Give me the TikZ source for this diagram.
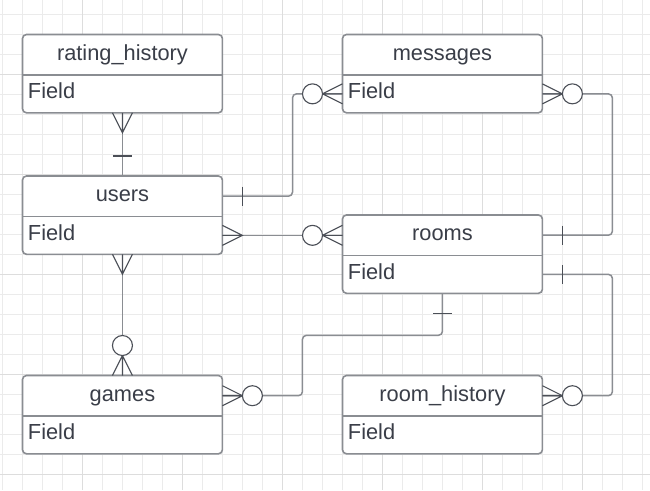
\documentclass[tikz,border=0pt]{standalone}
\usepackage{fontspec}
\setmainfont{Liberation Sans}
\usetikzlibrary{calc,backgrounds}
\definecolor{txt}{RGB}{58,62,72}
\definecolor{bord}{RGB}{138,141,146}
\definecolor{mk}{RGB}{75,79,87}
\definecolor{gmin}{RGB}{235,235,235}
\definecolor{gmaj}{RGB}{221,221,221}
\tikzset{
  ttl/.style={minimum width=199.5pt, minimum height=40pt, inner sep=0pt,
    text height=16pt, text depth=5pt, text=txt, font=\fontsize{21.8}{26}\selectfont},
  fld/.style={minimum width=199.5pt, minimum height=37.5pt, inner xsep=5.25pt, inner ysep=0pt,
    text width=189pt, align=left, text height=15pt, text depth=5pt, text=txt,
    font=\fontsize{21.8}{26}\selectfont},
  entbox/.style={draw=bord, line width=1.6pt, fill=white, rounded corners=4pt},
  divider/.style={draw=bord, line width=1.6pt},
  conn/.style={draw=bord, line width=1.5pt, rounded corners=4pt},
  mkline/.style={draw=mk, line width=1.1pt},
  gridminor/.style={draw=gmin, line width=0.9pt},
  gridmajor/.style={draw=gmaj, line width=1pt},
  crowpic/.pic={\draw[mkline] (0,-10) -- (20,0) -- (0,10) (0,0) -- (20,0);},
  zeromany/.pic={\draw[mkline] (0,-10) -- (20,0) -- (0,10) (0,0) -- (20,0);
                 \draw[mkline, fill=white] (30,0) circle[radius=10];},
  onebar/.pic={\draw[mkline] (20,-9.5) -- (20,9.5);}
}
\begin{document}
\begin{tikzpicture}[x=1pt,y=-1pt]
\useasboundingbox (0,0) rectangle (650,490);
\begin{scope}[on background layer]
  \fill[white] (0,0) rectangle (650,490);
  \foreach \x in {2.7,22.7,...,650} \draw[gridminor] (\x,0) -- (\x,490);
  \foreach \y in {14,34,...,490} \draw[gridminor] (0,\y) -- (650,\y);
  \foreach \x in {82.7,182.7,...,650} \draw[gridmajor] (\x,0) -- (\x,490);
  \foreach \y in {74,174,...,490} \draw[gridmajor] (0,\y) -- (650,\y);
\end{scope}

% entities
\node[ttl, anchor=north west] (rh-t) at (22.5,34.5) {rating\_history};
\node[fld, anchor=north] (rh-f) at (rh-t.south) {Field};
\node[ttl, anchor=north west] (msg-t) at (342.5,34.5) {messages};
\node[fld, anchor=north] (msg-f) at (msg-t.south) {Field};
\node[ttl, anchor=north west] (users-t) at (22.5,176) {users};
\node[fld, anchor=north] (users-f) at (users-t.south) {Field};
\node[ttl, anchor=north west] (rooms-t) at (342.5,215) {rooms};
\node[fld, anchor=north] (rooms-f) at (rooms-t.south) {Field};
\node[ttl, anchor=north west] (games-t) at (22.5,375.5) {games};
\node[fld, anchor=north] (games-f) at (games-t.south) {Field};
\node[ttl, anchor=north west] (rh2-t) at (342.5,375.5) {room\_history};
\node[fld, anchor=north] (rh2-f) at (rh2-t.south) {Field};

\begin{scope}[on background layer]
  \foreach \e in {rh,msg,users,rooms,games,rh2}
    \draw[entbox] (\e-t.north west) rectangle (\e-f.south east);
\end{scope}
\foreach \e in {rh,msg,users,rooms,games,rh2}
  \draw[divider] (\e-t.south west) -- (\e-t.south east);

% connectors
\draw[conn] (rh-f.south) -- (users-t.north);
\coordinate (c2) at ($(msg-f.west)+(-50,0)$);
\draw[conn] (users-t.east) -| (c2) -- (msg-f.west);
\draw[conn] (users-f.east) -- (users-f.east -| rooms-t.west);
\coordinate (c4) at ($(msg-f.east)+(70,0)$);
\draw[conn] (msg-f.east) -- (c4) |- (rooms-t.east);
\coordinate (c5) at ($(rooms-f.east)+(70,0)$);
\draw[conn] (rooms-f.east) -- (c5) |- (rh2-t.east);
\draw[conn] (users-f.south) -- (games-t.north);
\coordinate (c7) at ($(rooms-f.south)+(-140,42)$);
\draw[conn] (rooms-f.south) |- (c7) |- (games-t.east);

% end markers
\pic[rotate=-90] at (rh-f.south) {crowpic};
\pic[rotate=90] at (users-t.north) {onebar};
\pic at (users-t.east) {onebar};
\pic[rotate=180] at (msg-f.west) {zeromany};
\pic at (users-f.east -| users-t.east) {crowpic};
\pic[rotate=180] at (users-f.east -| rooms-t.west) {zeromany};
\pic at (msg-f.east) {zeromany};
\pic at (rooms-t.east) {onebar};
\pic at (rooms-f.east) {onebar};
\pic at (rh2-t.east) {zeromany};
\pic[rotate=-90] at (users-f.south) {crowpic};
\pic[rotate=90] at (games-t.north) {zeromany};
\pic[rotate=-90] at (rooms-f.south) {onebar};
\pic at (games-t.east) {zeromany};
\end{tikzpicture}
\end{document}
